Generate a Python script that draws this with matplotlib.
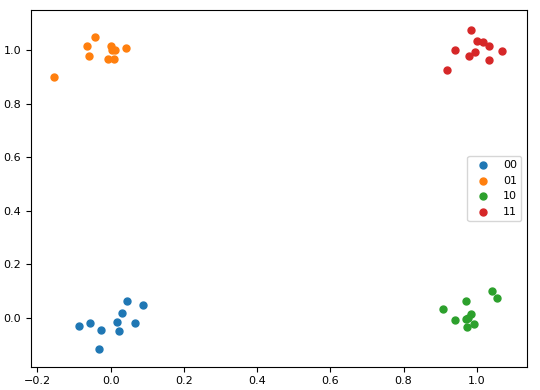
import numpy as np
import matplotlib.pyplot as plt

# cluster points
x00 = [-0.086, -0.055, -0.026, -0.031, 0.018, 0.022, 0.032, 0.045, 0.066, 0.089]
y00 = [-0.033, -0.019, -0.046, -0.116, -0.016, -0.049, 0.019, 0.064, -0.021, 0.049]

x01 = [-0.155, -0.042, -0.064, -0.060, 0.002, 0.011, 0.005, 0.042, -0.007, 0.009]
y01 = [0.901, 1.050, 1.017, 0.977, 1.015, 1.001, 1.002, 1.010, 0.969, 0.966]

x10 = [1.040, 1.054, 0.970, 0.908, 0.940, 0.983, 0.970, 0.991, 0.974, 0.975]
y10 = [0.101, 0.072, 0.062, 0.031, -0.009, 0.015, -0.006, -0.025, -0.034, -0.002]

x11 = [0.984, 1.001, 1.017, 1.032, 0.940, 0.995, 0.979, 1.069, 1.034, 0.918]
y11 = [1.076, 1.036, 1.030, 1.017, 1.001, 0.994, 0.980, 0.996, 0.964, 0.926]

labels = ['00', '01', '10', '11']

fig = plt.figure(figsize=(5.4, 3.9), dpi=100)
ax = fig.add_axes([0.057, 0.06, 0.919, 0.914])
for xs, ys, lab in zip([x00, x01, x10, x11], [y00, y01, y10, y11], labels):
    ax.scatter(xs, ys, s=25, label=lab)

ax.set_xlim(-0.218, 1.137)
ax.set_ylim(-0.183, 1.15)
ax.tick_params(axis='both', labelsize=8)
ax.legend(loc='center right', fontsize=8)
fig.savefig('out.png', dpi=100)
